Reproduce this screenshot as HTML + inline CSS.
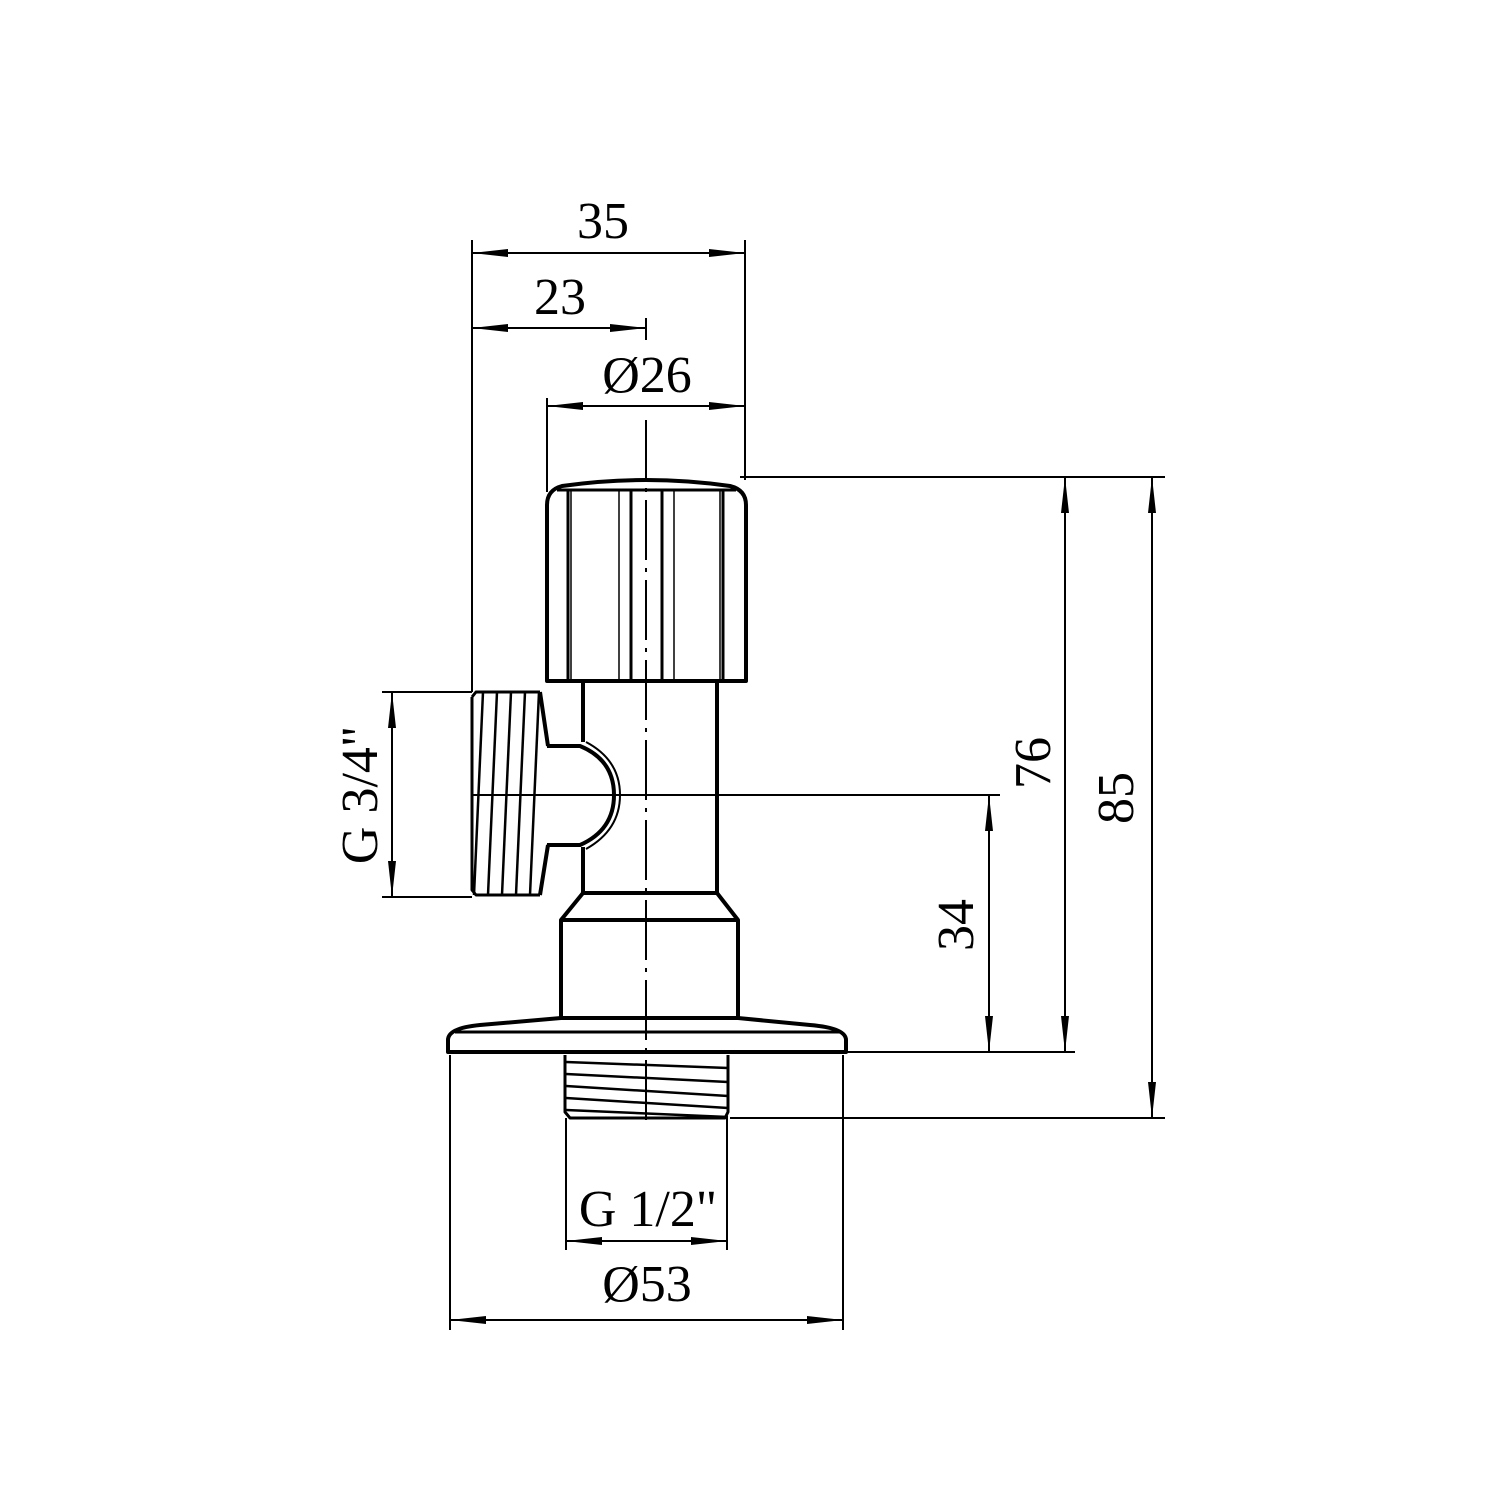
<!DOCTYPE html>
<html><head><style>html,body{margin:0;padding:0;background:#fff}svg{display:block}</style></head>
<body>
<svg width="1500" height="1500" viewBox="0 0 1500 1500" xmlns="http://www.w3.org/2000/svg">
<defs>
<marker id="a" viewBox="0 0 36 10" refX="36" refY="5" markerWidth="36" markerHeight="10" markerUnits="userSpaceOnUse" orient="auto-start-reverse"><path d="M0,1 L36,5 L0,9 Z" fill="#000"/></marker>
</defs>
<g stroke="#000" stroke-width="2" fill="none">
<line x1="472" y1="240" x2="472" y2="692"/>
<line x1="745" y1="240" x2="745" y2="480"/>
<line x1="646" y1="318" x2="646" y2="340"/>
<line x1="547" y1="398" x2="547" y2="492"/>
<line x1="740" y1="477" x2="1165" y2="477"/>
<line x1="846" y1="1052" x2="1075" y2="1052"/>
<line x1="730" y1="1118" x2="1165" y2="1118"/>
<line x1="472" y1="795" x2="1000" y2="795"/>
<line x1="382" y1="692" x2="472" y2="692"/>
<line x1="382" y1="897" x2="472" y2="897"/>
<line x1="450" y1="1055" x2="450" y2="1330"/>
<line x1="843" y1="1055" x2="843" y2="1330"/>
<line x1="566" y1="1118" x2="566" y2="1250"/>
<line x1="727" y1="1118" x2="727" y2="1250"/>
<line x1="472" y1="253" x2="745" y2="253" marker-start="url(#a)" marker-end="url(#a)"/>
<line x1="472" y1="328" x2="646" y2="328" marker-start="url(#a)" marker-end="url(#a)"/>
<line x1="547" y1="406" x2="745" y2="406" marker-start="url(#a)" marker-end="url(#a)"/>
<line x1="1065" y1="477" x2="1065" y2="1052" marker-start="url(#a)" marker-end="url(#a)"/>
<line x1="1152" y1="477" x2="1152" y2="1118" marker-start="url(#a)" marker-end="url(#a)"/>
<line x1="989" y1="795" x2="989" y2="1052" marker-start="url(#a)" marker-end="url(#a)"/>
<line x1="392" y1="692" x2="392" y2="897" marker-start="url(#a)" marker-end="url(#a)"/>
<line x1="450" y1="1320" x2="843" y2="1320" marker-start="url(#a)" marker-end="url(#a)"/>
<line x1="566" y1="1241" x2="727" y2="1241" marker-start="url(#a)" marker-end="url(#a)"/>
<line x1="646" y1="420" x2="646" y2="1125" stroke-dasharray="60,8,4,8"/>
</g>
<g stroke="#000" stroke-width="4" fill="none" stroke-linejoin="round">
<path d="M547,681 L547,505 Q547,490 562,486 Q646,474 730,486 Q746,490 746,505 L746,681 Z"/>
<line x1="557" y1="490" x2="736" y2="490" stroke-width="3"/>
<line x1="568" y1="490" x2="568" y2="681" stroke-width="3"/>
<line x1="631" y1="490" x2="631" y2="681" stroke-width="3"/>
<line x1="662" y1="490" x2="662" y2="681" stroke-width="3"/>
<line x1="723" y1="490" x2="723" y2="681" stroke-width="3"/>
<g stroke-width="1.5"><line x1="571" y1="490" x2="571" y2="681"/><line x1="619" y1="490" x2="619" y2="681"/><line x1="674" y1="490" x2="674" y2="681"/><line x1="720" y1="490" x2="720" y2="681"/></g>
<path d="M583,681 L583,742 M583,847 L583,893 L717,893 L717,681"/>
<path d="M583,893 L561,920 L561,1018 M717,893 L738,920 L738,1018"/>
<line x1="561" y1="920" x2="738" y2="920"/>
<path d="M547,746 L580,746 Q614,760 614,795 Q614,830 580,845 L547,845"/>
<path d="M586,742 Q620,760 620,795 Q620,830 586,849" stroke-width="2"/>
<path d="M540,692 L548,746 M548,845 L540,895"/>
<path d="M472,697 L476,692 L540,692 M472,697 L472,890 L476,895 L540,895" stroke-width="3"/>
<g stroke-width="2.5"><line x1="474" y1="895" x2="483" y2="692"/><line x1="488" y1="895" x2="497" y2="692"/><line x1="502" y1="895" x2="511" y2="692"/><line x1="516" y1="895" x2="525" y2="692"/><line x1="530" y1="895" x2="539" y2="692"/></g>
<path d="M561,1018 L738,1018 L810,1025 Q846,1028 846,1040 L846,1052 L448,1052 L448,1040 Q448,1028 480,1025 Z"/>
<line x1="455" y1="1032" x2="840" y2="1032" stroke-width="3"/>
<path d="M565,1055 L565,1112 L570,1118 L725,1118 L728,1112 L728,1055" stroke-width="3"/>
<g stroke-width="2.5"><line x1="566" y1="1062" x2="728" y2="1068"/><line x1="566" y1="1074" x2="728" y2="1082"/><line x1="566" y1="1086" x2="728" y2="1096"/><line x1="566" y1="1098" x2="728" y2="1108"/><line x1="566" y1="1110" x2="728" y2="1117"/></g>
</g>
<g font-family="Liberation Serif, serif" font-size="52" fill="#000" text-anchor="middle">
<text x="603" y="238">35</text>
<text x="560" y="314">23</text>
<text x="647" y="392">Ø26</text>
<text x="648" y="1226">G 1/2"</text>
<text x="647" y="1301">Ø53</text>
<text transform="translate(1050,763) rotate(-90)">76</text>
<text transform="translate(1133,798) rotate(-90)">85</text>
<text transform="translate(973,925) rotate(-90)">34</text>
<text transform="translate(377,795) rotate(-90)">G 3/4"</text>
</g>
</svg>
</body></html>
